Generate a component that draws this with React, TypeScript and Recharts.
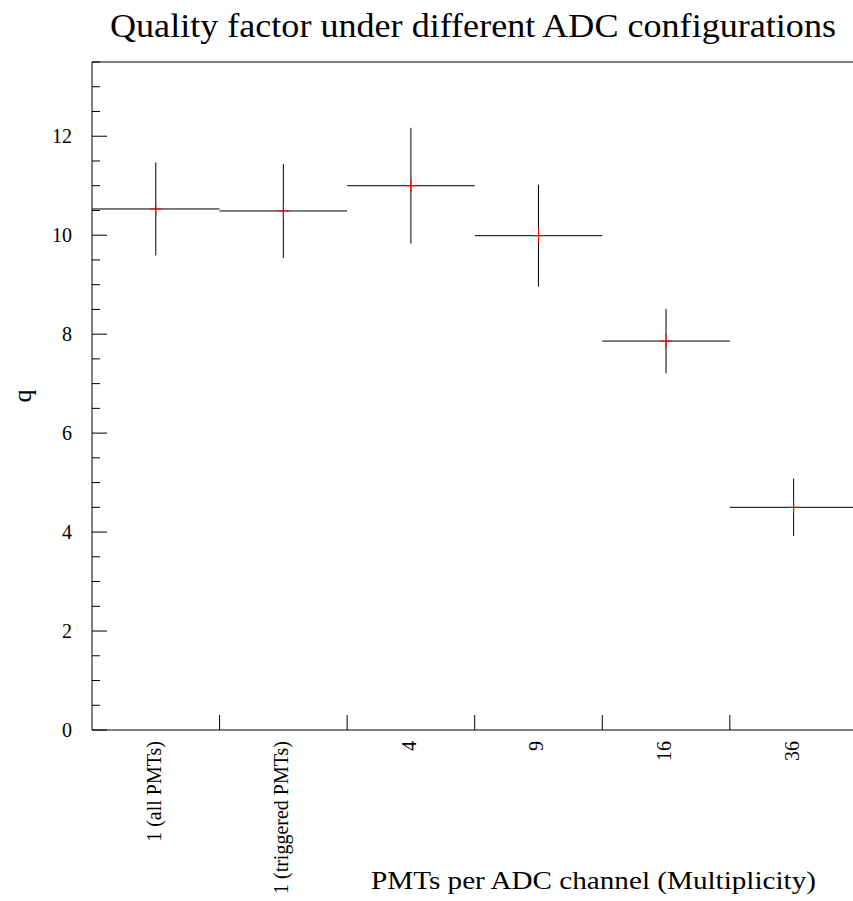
import { ComposedChart, Scatter, ErrorBar, XAxis, YAxis, ReferenceLine } from 'recharts'

const categories = ['1 (all PMTs)', '1 (triggered PMTs)', '4', '9', '16', '36']
const qValues = [10.53, 10.49, 11.0, 9.99, 7.86, 4.5]
const qErrors = [0.94, 0.95, 1.17, 1.03, 0.65, 0.58]
const binHalfWidth = [0.5, 0.5, 0.5, 0.5, 0.5, 0.5]
const binCenters = [0.5, 1.5, 2.5, 3.5, 4.5, 5.5]
const binEdges = [1, 2, 3, 4, 5]
const yMajorTicks = [0, 2, 4, 6, 8, 10, 12]
const yMinorTicks = [0.5, 1, 1.5, 2.5, 3, 3.5, 4.5, 5, 5.5, 6.5, 7, 7.5, 8.5, 9, 9.5, 10.5, 11, 11.5, 12.5, 13, 13.5]

const points = categories.map((name, i) => ({
  name,
  x: binCenters[i],
  q: qValues[i],
  qErr: qErrors[i],
  xErr: binHalfWidth[i],
}))

const FONT = '"Liberation Serif", "Times New Roman", serif'

function Marker(props: any) {
  const { cx, cy } = props
  return (
    <g>
      <line x1={cx - 6} x2={cx + 6} y1={cy} y2={cy} stroke="#ff0000" strokeWidth={1} />
      <line x1={cx} x2={cx} y1={cy - 7} y2={cy + 7} stroke="#ff0000" strokeWidth={1} />
    </g>
  )
}

function XTick(props: any) {
  const { x, y, payload } = props
  const v = payload.value as number
  if (binEdges.includes(v)) {
    return <line x1={x} x2={x} y1={y} y2={y - 15} stroke="#000" strokeWidth={1} />
  }
  const label = categories[Math.floor(v)]
  return (
    <text
      x={0}
      y={0}
      transform={`translate(${x - 2},${y + 11}) rotate(-90)`}
      textAnchor="end"
      dominantBaseline="central"
      fontFamily={FONT}
      fontSize={20}
      fill="#000"
    >
      {label}
    </text>
  )
}

function YTick(props: any) {
  const { x, y, payload } = props
  const v = payload.value as number
  const major = yMajorTicks.includes(v)
  return (
    <g>
      <line x1={x} x2={x + (major ? 15 : 8)} y1={y} y2={y} stroke="#000" strokeWidth={1} />
      {major && (
        <text x={x - 20} y={y} textAnchor="end" dominantBaseline="central" fontFamily={FONT} fontSize={20} fill="#000">
          {v}
        </text>
      )}
    </g>
  )
}

export default function App() {
  const xTicks = [...binCenters, ...binEdges].sort((a, b) => a - b)
  const yTicks = [...yMajorTicks, ...yMinorTicks].sort((a, b) => a - b)
  return (
    <div style={{ position: 'absolute', left: 0, top: 0, width: 853, height: 901, overflow: 'hidden', background: '#fff' }}>
      <ComposedChart
        width={880}
        height={901}
        data={points}
        margin={{ top: 62, right: 22.6, bottom: 170, left: 0 }}
      >
        <XAxis
          type="number"
          dataKey="x"
          domain={[0, 6]}
          ticks={xTicks}
          interval={0}
          tick={<XTick />}
          tickLine={false}
          tickSize={0}
          tickMargin={0}
          height={1}
          axisLine={{ stroke: '#000', strokeWidth: 1 }}
          allowDataOverflow
        />
        <YAxis
          type="number"
          domain={[0, 13.5]}
          ticks={yTicks}
          interval={0}
          tick={<YTick />}
          tickLine={false}
          tickSize={0}
          tickMargin={0}
          width={92}
          axisLine={{ stroke: '#000', strokeWidth: 1 }}
          allowDataOverflow
        />
        <ReferenceLine y={13.5} stroke="#000" strokeWidth={1} />
        <ReferenceLine x={6} stroke="#000" strokeWidth={1} />
        <Scatter dataKey="q" isAnimationActive={false} shape={<Marker />}>
          <ErrorBar dataKey="qErr" direction="y" width={0} stroke="#000" strokeWidth={1} isAnimationActive={false} />
          <ErrorBar dataKey="xErr" direction="x" width={0} stroke="#000" strokeWidth={1} isAnimationActive={false} />
        </Scatter>
      </ComposedChart>
      <svg width={853} height={901} style={{ position: 'absolute', left: 0, top: 0, pointerEvents: 'none' }}>
        <text x={110} y={37} fontFamily={FONT} fontSize={34} textLength={726} lengthAdjust="spacingAndGlyphs" fill="#000">
          Quality factor under different ADC configurations
        </text>
        <text x={371} y={889} fontFamily={FONT} fontSize={25} textLength={445} lengthAdjust="spacingAndGlyphs" fill="#000">
          PMTs per ADC channel (Multiplicity)
        </text>
        <text
          x={0}
          y={0}
          transform="translate(22,396) rotate(-90)"
          textAnchor="middle"
          dominantBaseline="central"
          fontFamily={FONT}
          fontSize={26}
          fill="#000"
        >
          q
        </text>
      </svg>
    </div>
  )
}
